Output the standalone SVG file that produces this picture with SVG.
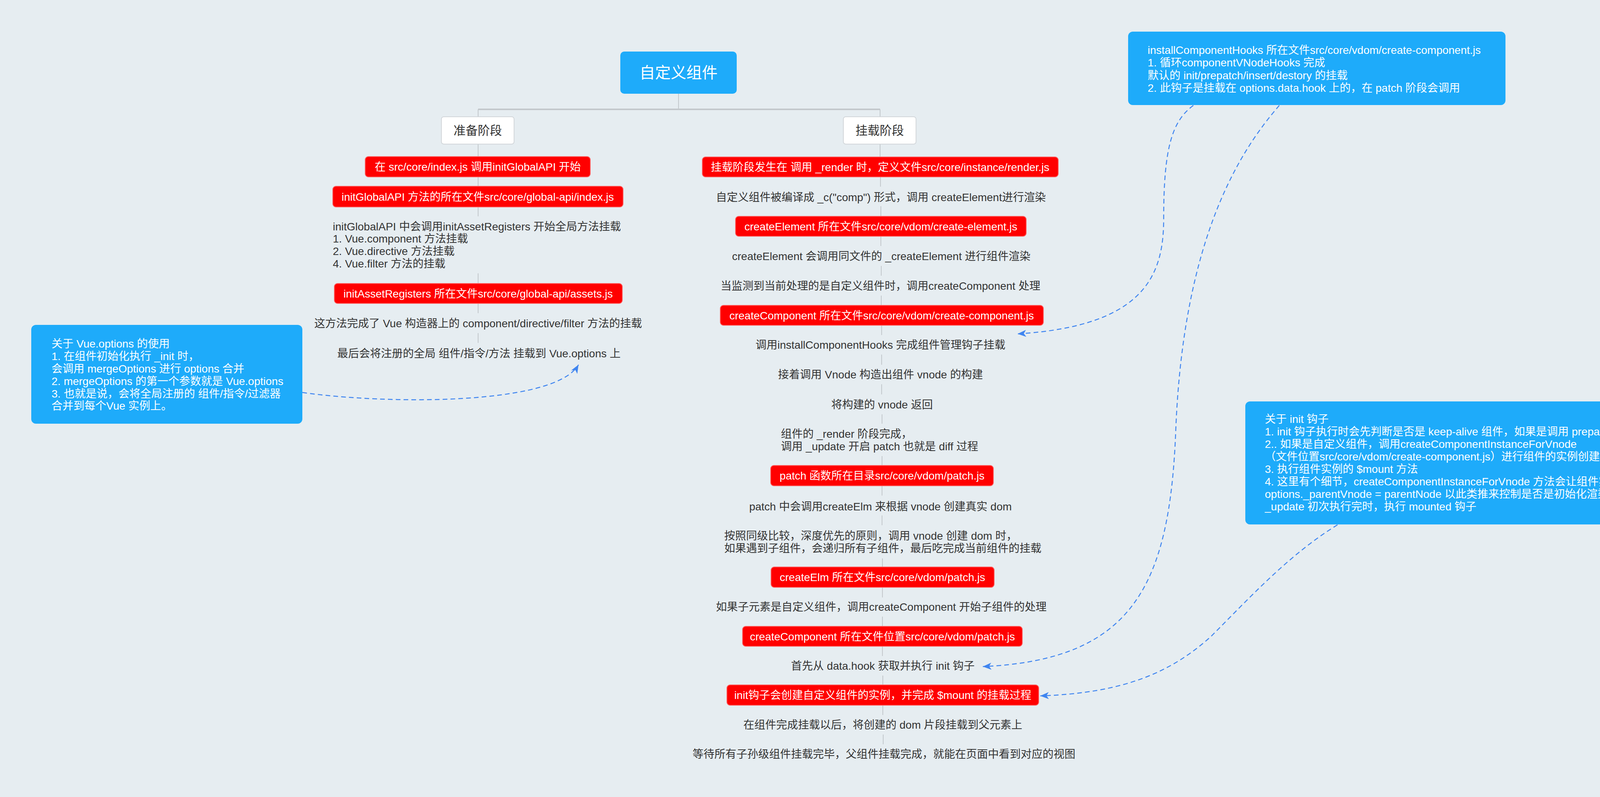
<svg xmlns="http://www.w3.org/2000/svg" width="4383" height="2041" viewBox="0 0 4383 2041">
<style>
.t{font-family:"Liberation Sans","Noto Sans CJK SC",sans-serif;font-size:28px;fill:#333333}
.w{fill:#ffffff}
.c{text-anchor:middle}
.red{fill:#ff0000;stroke:#ff5a5a;stroke-width:2}
.note{fill:#1eabfa}
.phase{fill:#ffffff;stroke:#d2d6da;stroke-width:2}
.ln{stroke:#c3c8cc;stroke-width:2;fill:none}
.dash{stroke:#3f85f0;stroke-width:2.5;fill:none;stroke-dasharray:12 8;marker-end:url(#arr)}
</style>
<defs>
<marker id="arr" markerUnits="userSpaceOnUse" markerWidth="24" markerHeight="20" refX="22" refY="9" orient="auto">
<path d="M0,0 L22,9 L0,18 L6,9 Z" fill="#3f85f0"/>
</marker>
</defs>
<rect x="0" y="0" width="4383" height="2041" fill="#e6edf1"/>

<g id="connectors">
<path class="ln" d="M1737,240 V280"/>
<path class="ln" style="stroke-width:4" d="M1224,280 H2253"/>
<path class="ln" d="M1224,280 V299 M2253,280 V299"/>
<path class="ln" d="M1224,369 V401 M1224,453 V477 M1224,530 V554 M1224,700 V726 M1224,777 V802 M1224,853 V878"/>
<path class="ln" d="M2253,369 V402 M2254,453 V478 M2255,528 V554 M2255,605 V630 M2256,681 V706 M2256,757 V782 M2257,833 V858 M2257,908 V934 M2257,984 V1010 M2258,1061 V1085 M2258,1168 V1192 M2258,1244 V1269 M2258,1320 V1345 M2259,1430 V1452 M2259,1504 V1530 M2259,1579 V1604 M2259,1655 V1680 M2260,1730 V1754 M2260,1806 V1831 M2261,1881 V1906"/>
<path class="dash" d="M774,1005 C980,1035 1420,1040 1481,934"/>
<path class="dash" d="M3055,270 C3000,310 2979,380 2979,560 C2979,700 2935,835 2605,855"/>
<path class="dash" d="M3275,270 C3180,380 3030,600 3010,1100 C2995,1500 2900,1690 2516,1707"/>
<path class="dash" d="M3424,1344 C3300,1420 3200,1530 3100,1630 C3000,1720 2880,1775 2663,1782"/>
</g>

<g id="title">
<rect x="1588" y="132" width="298" height="108" rx="10" fill="#1eabfa"/>
<text class="t w c" x="1737" y="200" style="font-size:40px">自定义组件</text>
</g>

<g id="phase-prepare">
<rect class="phase" x="1130" y="299" width="186" height="70" rx="6"/>
<text class="t c" x="1223" y="345" style="font-size:31px">准备阶段</text>
</g>
<g id="phase-mount">
<rect class="phase" x="2159" y="299" width="186" height="70" rx="6"/>
<text class="t c" x="2252" y="345" style="font-size:31px">挂载阶段</text>
</g>

<g id="l1">
<rect class="red" x="935" y="401" width="576" height="52" rx="8"/>
<text class="t w c" x="1223" y="437">在 src/core/index.js 调用initGlobalAPI 开始</text>
</g>
<g id="l2">
<rect class="red" x="852" y="477" width="743" height="53" rx="8"/>
<text class="t w c" x="1223" y="514">initGlobalAPI 方法的所在文件src/core/global-api/index.js</text>
</g>
<g id="l3">
<text class="t" x="852" y="590">initGlobalAPI 中会调用initAssetRegisters 开始全局方法挂载</text>
<text class="t" x="852" y="621">1. Vue.component 方法挂载</text>
<text class="t" x="852" y="653">2. Vue.directive 方法挂载</text>
<text class="t" x="852" y="685">4. Vue.filter 方法的挂载</text>
</g>
<g id="l4">
<rect class="red" x="856" y="726" width="737" height="51" rx="8"/>
<text class="t w c" x="1224" y="762">initAssetRegisters 所在文件src/core/global-api/assets.js</text>
</g>
<g id="l5">
<text class="t c" x="1224" y="838">这方法完成了 Vue 构造器上的 component/directive/filter 方法的挂载</text>
</g>
<g id="l6">
<text class="t c" x="1226" y="915">最后会将注册的全局 组件/指令/方法 挂载到 Vue.options 上</text>
</g>

<g id="r1">
<rect class="red" x="1798" y="402" width="911" height="51" rx="8"/>
<text class="t w c" x="2253" y="438">挂载阶段发生在 调用 _render 时，定义文件src/core/instance/render.js</text>
</g>
<g id="r2">
<text class="t c" x="2255" y="515">自定义组件被编译成 _c("comp") 形式，调用 createElement进行渲染</text>
</g>
<g id="r3">
<rect class="red" x="1883" y="554" width="744" height="51" rx="8"/>
<text class="t w c" x="2255" y="590">createElement 所在文件src/core/vdom/create-element.js</text>
</g>
<g id="r4">
<text class="t c" x="2256" y="666">createElement 会调用同文件的 _createElement 进行组件渲染</text>
</g>
<g id="r5">
<text class="t c" x="2254" y="742">当监测到当前处理的是自定义组件时，调用createComponent 处理</text>
</g>
<g id="r6">
<rect class="red" x="1844" y="782" width="827" height="51" rx="8"/>
<text class="t w c" x="2257" y="818">createComponent 所在文件src/core/vdom/create-component.js</text>
</g>
<g id="r7">
<text class="t c" x="2254" y="893">调用installComponentHooks 完成组件管理钩子挂载</text>
</g>
<g id="r8">
<text class="t c" x="2254" y="969">接着调用 Vnode 构造出组件 vnode 的构建</text>
</g>
<g id="r9">
<text class="t c" x="2258" y="1046">将构建的 vnode 返回</text>
</g>
<g id="r10">
<text class="t" x="1999" y="1121">组件的 _render 阶段完成，</text>
<text class="t" x="1999" y="1153">调用 _update 开启 patch 也就是 diff 过程</text>
</g>
<g id="r11">
<rect class="red" x="1973" y="1192" width="570" height="52" rx="8"/>
<text class="t w c" x="2258" y="1228">patch 函数所在目录src/core/vdom/patch.js</text>
</g>
<g id="r12">
<text class="t c" x="2254" y="1307">patch 中会调用createElm 来根据 vnode 创建真实 dom</text>
</g>
<g id="r13">
<text class="t" x="1854" y="1382">按照同级比较，深度优先的原则，调用 vnode 创建 dom 时，</text>
<text class="t" x="1854" y="1414">如果遇到子组件，会递归所有子组件，最后吃完成当前组件的挂载</text>
</g>
<g id="r14">
<rect class="red" x="1974" y="1452" width="571" height="52" rx="8"/>
<text class="t w c" x="2259" y="1488">createElm 所在文件src/core/vdom/patch.js</text>
</g>
<g id="r15">
<text class="t c" x="2256" y="1564">如果子元素是自定义组件，调用createComponent 开始子组件的处理</text>
</g>
<g id="r16">
<rect class="red" x="1901" y="1604" width="716" height="51" rx="8"/>
<text class="t w c" x="2259" y="1640">createComponent 所在文件位置src/core/vdom/patch.js</text>
</g>
<g id="r17">
<text class="t c" x="2260" y="1715">首先从 data.hook 获取并执行 init 钩子</text>
</g>
<g id="r18">
<rect class="red" x="1861" y="1754" width="798" height="52" rx="8"/>
<text class="t w c" x="2260" y="1790">init钩子会创建自定义组件的实例，并完成 $mount 的挂载过程</text>
</g>
<g id="r19">
<text class="t c" x="2260" y="1866">在组件完成挂载以后，将创建的 dom 片段挂载到父元素上</text>
</g>
<g id="r20">
<text class="t c" x="2263" y="1941">等待所有子孙级组件挂载完毕，父组件挂载完成，就能在页面中看到对应的视图</text>
</g>

<g id="note-options">
<rect class="note" x="80" y="832" width="694" height="253" rx="12"/>
<text class="t w" x="132" y="890">关于 Vue.options 的使用</text>
<text class="t w" x="132" y="922">1. 在组件初始化执行 _init 时，</text>
<text class="t w" x="132" y="954">会调用 mergeOptions 进行 options 合并</text>
<text class="t w" x="132" y="986">2. mergeOptions 的第一个参数就是 Vue.options</text>
<text class="t w" x="132" y="1018">3. 也就是说，会将全局注册的 组件/指令/过滤器</text>
<text class="t w" x="132" y="1049">合并到每个Vue 实例上。</text>
</g>
<g id="note-hooks">
<rect class="note" x="2888" y="81" width="966" height="188" rx="12"/>
<text class="t w" x="2938" y="138">installComponentHooks 所在文件src/core/vdom/create-component.js</text>
<text class="t w" x="2938" y="170">1. 循环componentVNodeHooks 完成</text>
<text class="t w" x="2938" y="203">默认的 init/prepatch/insert/destory 的挂载</text>
<text class="t w" x="2938" y="235">2. 此钩子是挂载在 options.data.hook 上的，在 patch 阶段会调用</text>
</g>
<g id="note-init">
<rect class="note" x="3188" y="1028" width="1112" height="315" rx="12"/>
<text class="t w" x="3238" y="1083">关于 init 钩子</text>
<text class="t w" x="3238" y="1115">1. init 钩子执行时会先判断是否是 keep-alive 组件，如果是调用 prepatch 进行处理</text>
<text class="t w" x="3238" y="1147">2.. 如果是自定义组件，调用createComponentInstanceForVnode</text>
<text class="t w" x="3238" y="1179">（文件位置src/core/vdom/create-component.js）进行组件的实例创建</text>
<text class="t w" x="3238" y="1211">3. 执行组件实例的 $mount 方法</text>
<text class="t w" x="3238" y="1243">4. 这里有个细节，createComponentInstanceForVnode 方法会让组件实例的</text>
<text class="t w" x="3238" y="1275">options._parentVnode = parentNode 以此类推来控制是否是初始化渲染，以便在</text>
<text class="t w" x="3238" y="1307">_update 初次执行完时，执行 mounted 钩子</text>
</g>
</svg>
